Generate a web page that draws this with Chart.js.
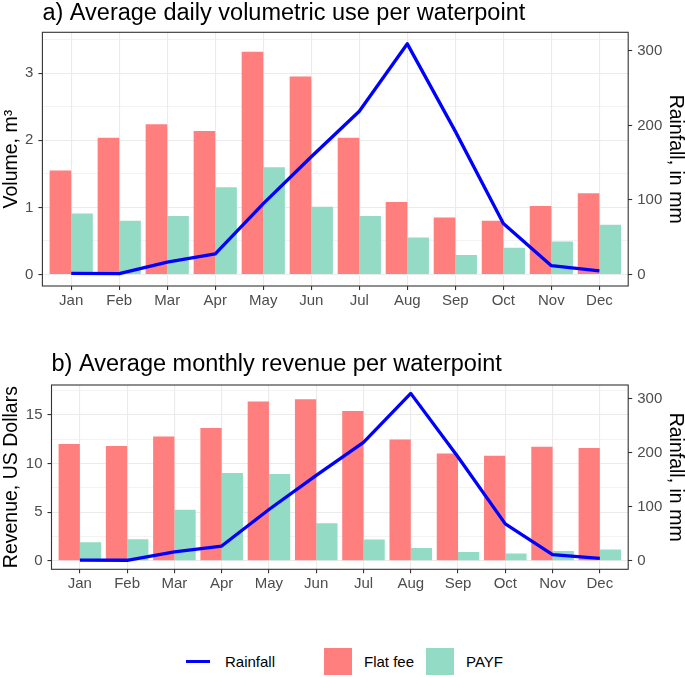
<!DOCTYPE html>
<html>
<head>
<meta charset="utf-8">
<script src="https://cdn.jsdelivr.net/npm/chart.js@4.4.0/dist/chart.umd.min.js"></script>
<style>
  html, body { margin: 0; padding: 0; background: #ffffff; }
  #wrap { position: relative; width: 685px; height: 677px; overflow: hidden;
          font-family: "Liberation Sans", Arial, Helvetica, sans-serif; }
  canvas { position: absolute; left: 0; }
  #ca { top: 0; }
  #cb { top: 330px; }
  .lgtxt { position: absolute; font-size: 15px; line-height: 18px; color: #000; white-space: nowrap; }
  .lgbox { position: absolute; }
</style>
</head>
<body>
<div id="wrap">
  <canvas id="ca" width="685" height="320"></canvas>
  <canvas id="cb" width="685" height="290"></canvas>
  <div class="lgbox" style="left:186px;top:660px;width:24px;height:3px;background:#0000FF;"></div>
  <div class="lgtxt" style="left:225px;top:653px;">Rainfall</div>
  <div class="lgbox" style="left:324px;top:648px;width:28px;height:27px;background:#FF7F7F;"></div>
  <div class="lgtxt" style="left:364px;top:653px;">Flat fee</div>
  <div class="lgbox" style="left:426px;top:648px;width:28px;height:27px;background:#93DBC4;"></div>
  <div class="lgtxt" style="left:466px;top:653px;">PAYF</div>
</div>
<script>
// ---------- data ----------
const months = ['Jan','Feb','Mar','Apr','May','Jun','Jul','Aug','Sep','Oct','Nov','Dec'];
const rainfall = [1.5, 1.2, 16.6, 27.5, 95, 158, 219, 309.5, 192, 68.5, 11.8, 4.8];

const volumeFlat = [1.55, 2.04, 2.24, 2.14, 3.32, 2.95, 2.04, 1.08, 0.85, 0.80, 1.02, 1.21];
const volumePayf = [0.91, 0.80, 0.87, 1.30, 1.60, 1.01, 0.87, 0.55, 0.29, 0.40, 0.49, 0.74];

const revenueFlat = [11.99, 11.79, 12.76, 13.65, 16.36, 16.58, 15.38, 12.47, 11.03, 10.79, 11.72, 11.58];
const revenuePayf = [1.91, 2.22, 5.26, 9.02, 8.92, 3.86, 2.19, 1.33, 0.92, 0.75, 1.02, 1.16];

const volumeTicks = [0, 1, 2, 3];
const volumeGrid = [0, 0.5, 1, 1.5, 2, 2.5, 3, 3.5];
const revenueTicks = [0, 5, 10, 15];
const revenueGrid = [0, 2.5, 5, 7.5, 10, 12.5, 15, 17.5];
const rainTicks = [0, 100, 200, 300];

const volumeRainRatio = 90;   // mm per m³ on the secondary axis
const revenueRainRatio = 18;  // mm per USD on the secondary axis

// ---------- styling ----------
const FONT = '"Liberation Sans", Arial, Helvetica, sans-serif';
const FLAT_COLOR = '#FF7F7F';
const PAYF_COLOR = '#93DBC4';
const RAIN_COLOR = '#0000FF';
const GRID = '#EBEBEB';
const DARK = '#333333';
const TICK_TXT = '#4D4D4D';

const panelPlugin = {
  id: 'panelDeco',
  afterDraw(chart, args, opts) {
    const {ctx, chartArea: a} = chart;
    ctx.save();
    ctx.strokeStyle = DARK;
    ctx.lineWidth = 1.1;
    ctx.strokeRect(a.left, a.top, a.right - a.left, a.bottom - a.top);
    ctx.fillStyle = '#000';
    ctx.font = opts.titleSize + 'px ' + FONT;
    ctx.textAlign = 'left';
    ctx.textBaseline = 'alphabetic';
    ctx.fillText(opts.title, a.left, opts.titleBaseline);
    ctx.restore();
  }
};

function build(canvasId, cfg) {
  const maxLeft = Math.max(...rainfall) / cfg.ratio;
  const lo = -0.05 * maxLeft, hi = 1.05 * maxLeft;
  const idx = months.map((m, i) => i);
  return new Chart(document.getElementById(canvasId), {
    type: 'bar',
    data: {
      datasets: [
        {
          type: 'line', label: 'Rainfall', yAxisID: 'y2', order: 0,
          data: idx.map(i => ({x: i, y: rainfall[i]})),
          borderColor: RAIN_COLOR, borderWidth: 3.3, pointRadius: 0,
          fill: false, tension: 0, borderJoinStyle: 'round', borderCapStyle: 'butt'
        },
        {
          label: 'Flat fee', yAxisID: 'y', order: 1,
          data: idx.map(i => ({x: i, y: cfg.flat[i]})),
          backgroundColor: FLAT_COLOR, borderWidth: 0,
          categoryPercentage: 0.9, barPercentage: 1.0
        },
        {
          label: 'PAYF', yAxisID: 'y', order: 1,
          data: idx.map(i => ({x: i, y: cfg.payf[i]})),
          backgroundColor: PAYF_COLOR, borderWidth: 0,
          categoryPercentage: 0.9, barPercentage: 1.0
        }
      ]
    },
    options: {
      responsive: false,
      animation: false,
      devicePixelRatio: 1,
      layout: { padding: { top: cfg.padTop, left: 0, right: 0, bottom: 0 } },
      plugins: {
        legend: { display: false },
        tooltip: { enabled: false },
        panelDeco: { title: cfg.title, titleSize: 23.5, titleBaseline: cfg.titleBaseline }
      },
      scales: {
        x: {
          type: 'linear', min: -0.6, max: months.length - 0.4, offset: false,
          afterBuildTicks: s => { s.ticks = idx.map(i => ({value: i})); },
          afterFit: s => { s.height = cfg.xHeight; },
          ticks: {
            callback: v => months[v], color: TICK_TXT, autoSkip: false, maxRotation: 0,
            font: { family: FONT, size: 15 }, padding: 2
          },
          grid: { offset: false, color: GRID, lineWidth: 1.1, drawTicks: true, tickLength: 4, tickColor: DARK, tickWidth: 1.1 },
          border: { display: false }
        },
        y: {
          position: 'left', min: lo, max: hi,
          afterBuildTicks: s => { s.ticks = cfg.grid.map(v => ({value: v})); },
          afterFit: s => { s.width = cfg.leftWidth; },
          ticks: {
            callback: v => cfg.ticks.includes(v) ? String(v) : '',
            color: TICK_TXT, font: { family: FONT, size: 15 }, padding: 5
          },
          grid: {
            offset: false,
            color: GRID,
            lineWidth: c => cfg.ticks.includes(c.tick.value) ? 1.1 : 0.6,
            tickLength: 4,
            tickColor: c => cfg.ticks.includes(c.tick.value) ? DARK : 'rgba(0,0,0,0)',
            tickWidth: 1.1
          },
          border: { display: false },
          title: {
            display: true, text: cfg.yTitle, color: '#000',
            font: { family: FONT, size: 19.5, lineHeight: 1 }, padding: { top: 1.5, bottom: 0 }
          }
        },
        y2: {
          position: 'right', min: lo * cfg.ratio, max: hi * cfg.ratio,
          afterBuildTicks: s => { s.ticks = rainTicks.map(v => ({value: v})); },
          afterFit: s => { s.width = 56.8; },
          ticks: { color: TICK_TXT, font: { family: FONT, size: 15 }, padding: 5 },
          grid: { offset: false, drawOnChartArea: false, tickLength: 4, tickColor: DARK, tickWidth: 1.1 },
          border: { display: false },
          title: {
            display: true, text: 'Rainfall, in mm', color: '#000',
            font: { family: FONT, size: 19.5, lineHeight: 1 }, padding: { top: 0, bottom: 0 }
          }
        }
      }
    },
    plugins: [panelPlugin]
  });
}

build('ca', {
  title: 'a) Average daily volumetric use per waterpoint', titleBaseline: 19.5,
  flat: volumeFlat, payf: volumePayf, ratio: volumeRainRatio,
  ticks: volumeTicks, grid: volumeGrid, yTitle: 'Volume, m³',
  padTop: 32.3, xHeight: 34, leftWidth: 42.4
});

build('cb', {
  title: 'b) Average monthly revenue per waterpoint', titleBaseline: 40.5,
  flat: revenueFlat, payf: revenuePayf, ratio: revenueRainRatio,
  ticks: revenueTicks, grid: revenueGrid, yTitle: 'Revenue, US Dollars',
  padTop: 55, xHeight: 50.7, leftWidth: 51.5
});
</script>
</body>
</html>
